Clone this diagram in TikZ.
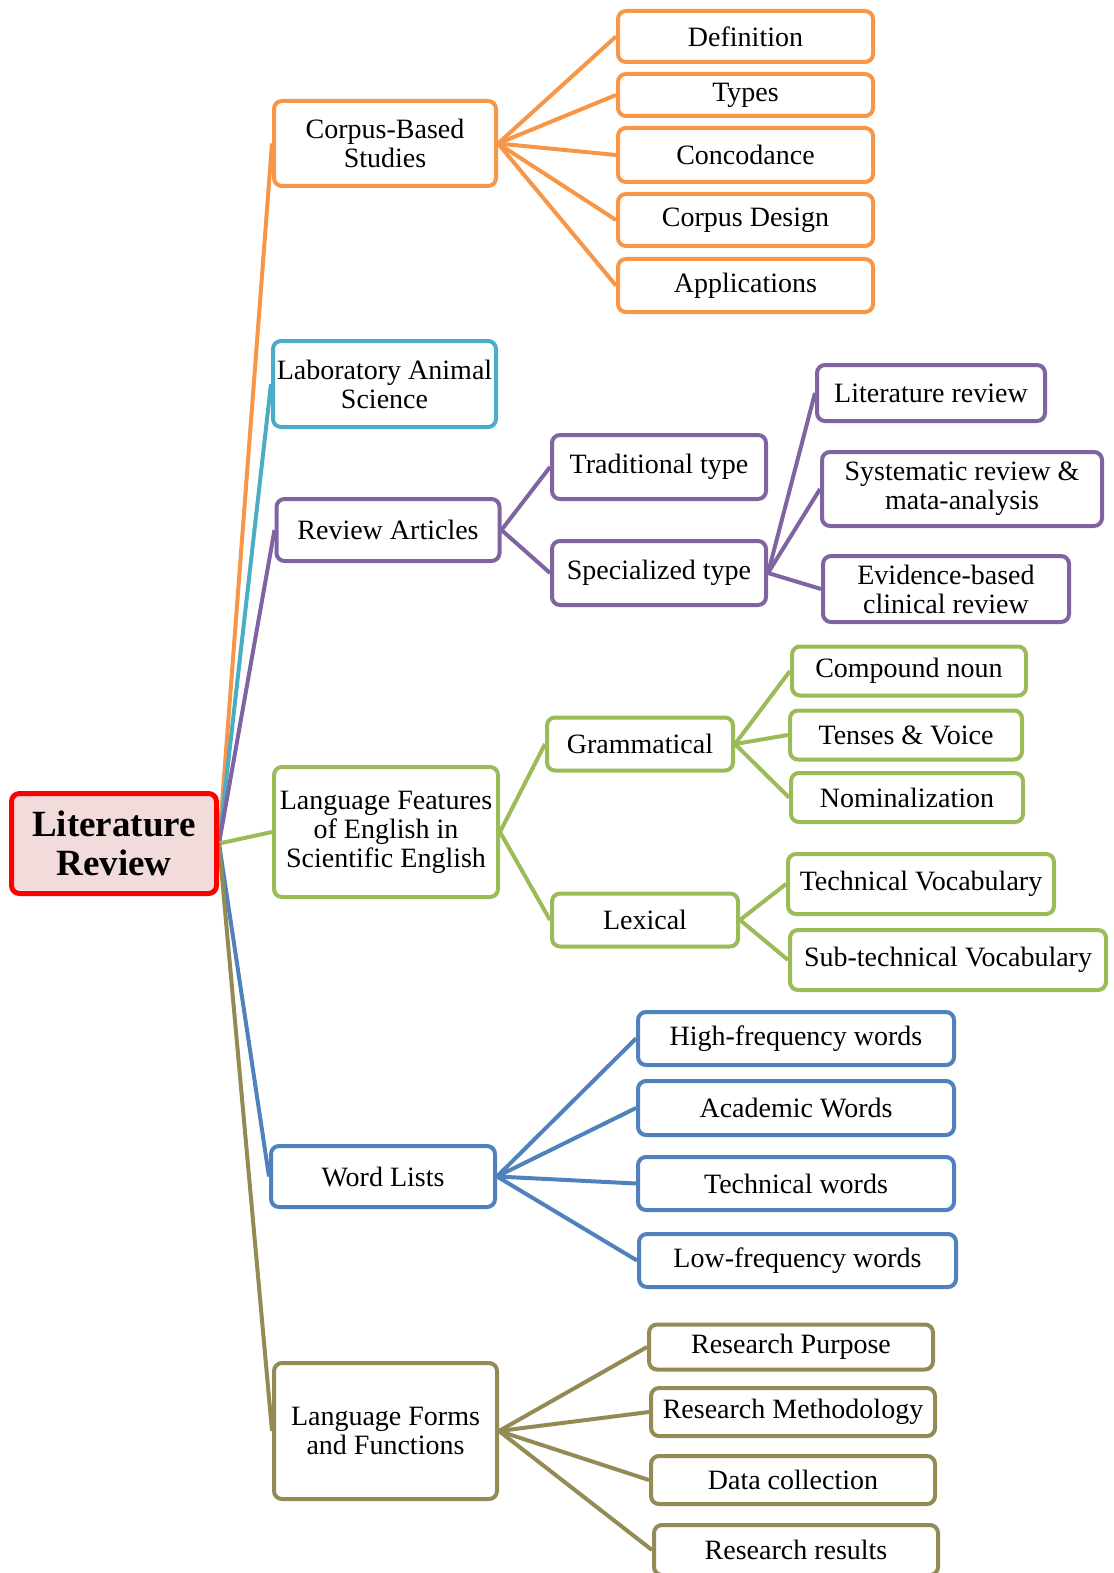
\documentclass[tikz,border=0pt]{standalone}
\usepackage{fontspec}
\setmainfont{Liberation Serif}
\usetikzlibrary{backgrounds}

\definecolor{corpusc}{HTML}{F79646}
\definecolor{labc}{HTML}{4BACC6}
\definecolor{reviewc}{HTML}{8064A2}
\definecolor{featc}{HTML}{9BBB59}
\definecolor{wordc}{HTML}{4F81BD}
\definecolor{formc}{HTML}{948A54}
\definecolor{rootfill}{HTML}{F2DCDB}

\begin{document}
\begin{tikzpicture}[
  x=0.5pt, y=-0.5pt,
  box/.style={draw, line width=2pt, rounded corners=4pt, fill=white, align=center, inner sep=1pt, font=\fontsize{14}{14.5}\selectfont},
  rootbox/.style={box, draw=red, line width=2.5pt, fill=rootfill, font=\fontsize{18.5}{19.5}\selectfont\bfseries},
  link/.style={line width=2pt}
]
\useasboundingbox (0,0) rectangle (1113,1573);

% root
\node[rootbox, minimum width=102.5pt, minimum height=50pt] (lr) at (114,843.5) {Literature\\Review};

% first level
\node[box, draw=corpusc, minimum width=111pt, minimum height=42.5pt] (cbs) at (385,143.5) {Corpus-Based\\Studies};
\node[box, draw=labc, minimum width=111.5pt, minimum height=43pt] (las) at (384.5,384) {Laboratory Animal\\Science};
\node[box, draw=reviewc, minimum width=111.5pt, minimum height=31pt] (ra) at (388,530) {Review Articles};
\node[box, draw=featc, minimum width=112pt, minimum height=65pt] (lfe) at (386,832) {Language Features\\of English in\\Scientific English};
\node[box, draw=wordc, minimum width=112pt, minimum height=30.5pt] (wl) at (383,1176.5) {Word Lists};
\node[box, draw=formc, minimum width=111.5pt, minimum height=68pt] (lff) at (385.5,1431) {Language Forms\\and Functions};

% corpus-based studies
\node[box, draw=corpusc, minimum width=127.5pt, minimum height=25.5pt] (def) at (745.5,36.5) {Definition};
\node[box, draw=corpusc, minimum width=127.5pt, minimum height=21pt] (types) at (745.5,95) {Types};
\node[box, draw=corpusc, minimum width=127.5pt, minimum height=27pt] (conc) at (745.5,155) {Concodance};
\node[box, draw=corpusc, minimum width=127.5pt, minimum height=26pt] (cdes) at (745.5,220) {Corpus Design};
\node[box, draw=corpusc, minimum width=127.5pt, minimum height=26.5pt] (appl) at (745.5,285.5) {Applications};

% review articles
\node[box, draw=reviewc, minimum width=107pt, minimum height=32pt] (trad) at (659,467) {Traditional type};
\node[box, draw=reviewc, minimum width=107pt, minimum height=32pt] (spec) at (659,573) {Specialized type};
\node[box, draw=reviewc, minimum width=114pt, minimum height=28pt] (litr) at (931,393) {Literature review};
\node[box, draw=reviewc, minimum width=140pt, minimum height=37pt] (sysr) at (962,489) {Systematic review \&\\mata-analysis};
\node[box, draw=reviewc, minimum width=123pt, minimum height=33pt] (ebcr) at (946,589) {Evidence-based\\clinical review};

% language features
\node[box, draw=featc, minimum width=93pt, minimum height=26.5pt] (gram) at (640,744) {Grammatical};
\node[box, draw=featc, minimum width=93pt, minimum height=26.5pt] (lex) at (645,920) {Lexical};
\node[box, draw=featc, minimum width=117pt, minimum height=24.5pt] (cnoun) at (909,671) {Compound noun};
\node[box, draw=featc, minimum width=116pt, minimum height=24.5pt] (tvoice) at (906,735) {Tenses \& Voice};
\node[box, draw=featc, minimum width=116pt, minimum height=24.5pt] (nomin) at (907,797.5) {Nominalization};
\node[box, draw=featc, minimum width=133pt, minimum height=30pt] (tvoc) at (921,884) {Technical Vocabulary};
\node[box, draw=featc, minimum width=158pt, minimum height=30pt] (stvoc) at (948,960) {Sub-technical Vocabulary};

% word lists
\node[box, draw=wordc, minimum width=158pt, minimum height=26.5pt] (hfw) at (796,1038.5) {High-frequency words};
\node[box, draw=wordc, minimum width=158pt, minimum height=27pt] (acw) at (796,1108) {Academic Words};
\node[box, draw=wordc, minimum width=158pt, minimum height=26.5pt] (tecw) at (796,1183.5) {Technical words};
\node[box, draw=wordc, minimum width=158.5pt, minimum height=26.5pt] (lfw) at (797.5,1260.5) {Low-frequency words};

% language forms and functions
\node[box, draw=formc, minimum width=142pt, minimum height=22.5pt] (rpur) at (791,1347) {Research Purpose};
\node[box, draw=formc, minimum width=142pt, minimum height=24pt] (rmet) at (793,1412) {Research Methodology};
\node[box, draw=formc, minimum width=142pt, minimum height=24pt] (dcol) at (793,1480) {Data collection};
\node[box, draw=formc, minimum width=142pt, minimum height=25pt] (rres) at (796,1550) {Research results};

\begin{scope}[on background layer]
\draw[link, corpusc] (lr.east) -- (cbs.west);
\draw[link, labc] (lr.east) -- (las.west);
\draw[link, reviewc] (lr.east) -- (ra.west);
\draw[link, featc] (lr.east) -- (lfe.west);
\draw[link, wordc] (lr.east) -- (wl.west);
\draw[link, formc] (lr.east) -- (lff.west);

\draw[link, corpusc] (cbs.east) -- (def.west);
\draw[link, corpusc] (cbs.east) -- (types.west);
\draw[link, corpusc] (cbs.east) -- (conc.west);
\draw[link, corpusc] (cbs.east) -- (cdes.west);
\draw[link, corpusc] (cbs.east) -- (appl.west);

\draw[link, reviewc] (ra.east) -- (trad.west);
\draw[link, reviewc] (ra.east) -- (spec.west);
\draw[link, reviewc] (spec.east) -- (litr.west);
\draw[link, reviewc] (spec.east) -- (sysr.west);
\draw[link, reviewc] (spec.east) -- (ebcr.west);

\draw[link, featc] (lfe.east) -- (gram.west);
\draw[link, featc] (lfe.east) -- (lex.west);
\draw[link, featc] (gram.east) -- (cnoun.west);
\draw[link, featc] (gram.east) -- (tvoice.west);
\draw[link, featc] (gram.east) -- (nomin.west);
\draw[link, featc] (lex.east) -- (tvoc.west);
\draw[link, featc] (lex.east) -- (stvoc.west);

\draw[link, wordc] (wl.east) -- (hfw.west);
\draw[link, wordc] (wl.east) -- (acw.west);
\draw[link, wordc] (wl.east) -- (tecw.west);
\draw[link, wordc] (wl.east) -- (lfw.west);

\draw[link, formc] (lff.east) -- (rpur.west);
\draw[link, formc] (lff.east) -- (rmet.west);
\draw[link, formc] (lff.east) -- (dcol.west);
\draw[link, formc] (lff.east) -- (rres.west);
\end{scope}
\end{tikzpicture}
\end{document}
